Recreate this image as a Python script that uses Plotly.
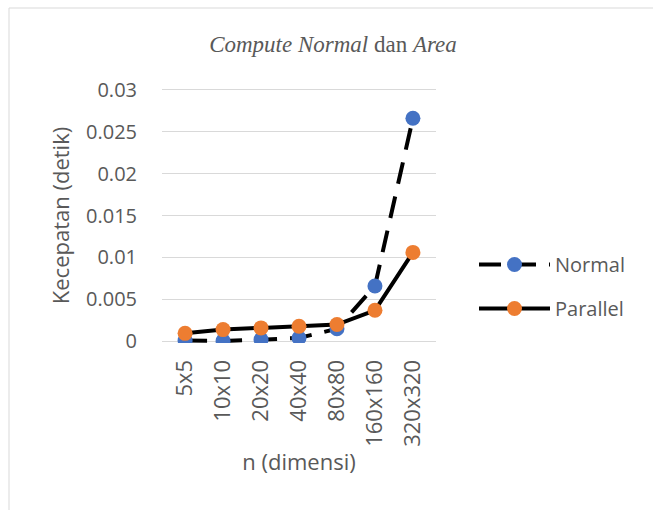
import plotly.graph_objects as go

# Matrix sizes and timings (seconds)
dimensions = ["5x5", "10x10", "20x20", "40x40", "80x80", "160x160", "320x320"]
normal_times = [0.0001, 0.00005, 0.0002, 0.0004, 0.0015, 0.0066, 0.0266]
parallel_times = [0.00095, 0.0014, 0.0016, 0.0018, 0.0020, 0.0037, 0.0106]
y_ticks = [0, 0.005, 0.01, 0.015, 0.02, 0.025, 0.03]
y_tick_text = ["0", "0.005", "0.01", "0.015", "0.02", "0.025", "0.03"]

W, H = 653, 510
L, R, T, B = 162, 217, 88, 167
pw, ph = W - L - R, H - T - B

def px_x(p):
    return (p - L) / pw

def px_y(p):
    return (H - B - p) / ph

FAMILY = "Open Sans, Liberation Sans, sans-serif"
GREY = "#595959"
CLEAR = "rgba(0,0,0,0)"

fig = go.Figure()
fig.add_trace(go.Scatter(
    x=dimensions, y=normal_times, name="Normal", mode="lines+markers",
    legendgroup="normal",
    line=dict(color="black", width=4, dash="22px,13px"),
    marker=dict(color="#4472C4", size=15),
))
fig.add_trace(go.Scatter(
    x=dimensions, y=parallel_times, name="Parallel", mode="lines+markers",
    legendgroup="parallel",
    line=dict(color="black", width=4),
    marker=dict(color="#ED7D31", size=15),
))

fig.update_layout(
    width=W, height=H,
    margin=dict(l=L, r=R, t=T, b=B),
    paper_bgcolor="white", plot_bgcolor="white",
    title=dict(
        text="<i>Compute Normal</i> dan <i>Area</i>",
        x=px_x(333), xref="paper", xanchor="center",
        y=1 - 44 / H, yanchor="middle",
        font=dict(family="Liberation Serif, serif", size=23, color=GREY),
    ),
    xaxis=dict(
        type="category", tickangle=-90,
        tickfont=dict(family=FAMILY, size=22, color=GREY),
        showgrid=False, showline=False, ticks="outside", ticklen=7, tickcolor=CLEAR,
        title=dict(text="n (dimensi)", font=dict(family=FAMILY, size=22, color=GREY), standoff=8),
    ),
    yaxis=dict(
        range=[-0.0002, 0.0302], tickvals=y_ticks, ticktext=y_tick_text,
        tickfont=dict(family=FAMILY, size=20, color=GREY),
        showgrid=True, gridcolor="#D9D9D9", gridwidth=1,
        zeroline=False, showline=False, ticks="outside", ticklen=20, tickcolor=CLEAR,
        title=dict(text="Kecepatan (detik)", font=dict(family=FAMILY, size=22, color=GREY), standoff=10),
    ),
    legend=dict(
        x=px_x(474), y=px_y(245), xanchor="left", yanchor="top",
        font=dict(family=FAMILY, size=20, color=GREY),
        itemwidth=71, tracegroupgap=15, bgcolor=CLEAR,
    ),
    shapes=[dict(
        type="rect", xref="paper", yref="paper",
        x0=px_x(9), x1=px_x(700), y0=px_y(560), y1=px_y(8),
        line=dict(color="#D9D9D9", width=1), fillcolor=CLEAR, layer="below",
    )],
)

fig.write_html("out.html")
